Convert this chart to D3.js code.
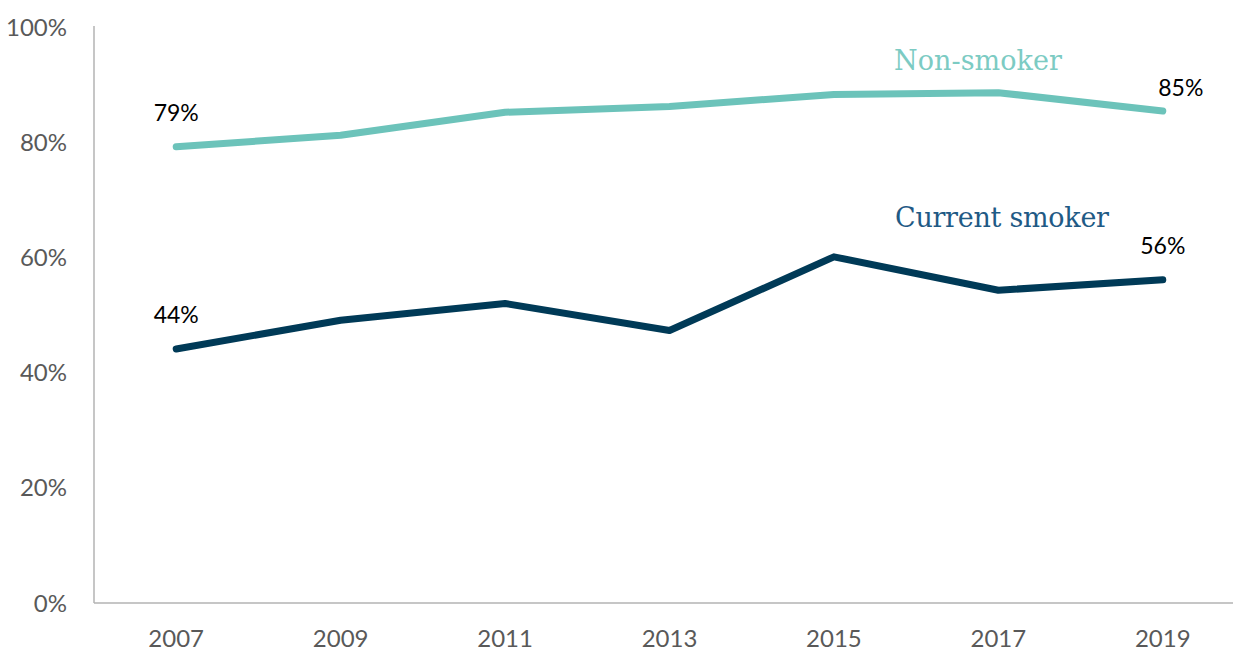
<!DOCTYPE html>
<html>
<head>
<meta charset="utf-8">
<script src="https://cdn.jsdelivr.net/npm/d3@7"></script>
<style>
  body { margin: 0; background: #fff; }
  svg { display: block; }
  .tick-label { font-family: Lato, "Open Sans", sans-serif; font-size: 24px; fill: #595959; }
  .data-label { font-family: Lato, "Open Sans", sans-serif; font-size: 23px; fill: #000; }
  .series-label { font-family: "DejaVu Serif", "Liberation Serif", serif; font-size: 27px; }
</style>
</head>
<body>
<div id="chart"></div>
<script>
// Data
const years = ["2007", "2009", "2011", "2013", "2015", "2017", "2019"];
const nonSmoker = [0.792, 0.812, 0.852, 0.862, 0.883, 0.886, 0.854];
const currentSmoker = [0.441, 0.491, 0.520, 0.473, 0.601, 0.543, 0.561];
const yTicks = [0, 0.2, 0.4, 0.6, 0.8, 1];

const width = 1233, height = 652;
const margin = { top: 27, right: 0, bottom: 49, left: 94 };

const svg = d3.select("#chart")
  .append("svg")
    .attr("width", width)
    .attr("height", height);

const x = d3.scalePoint()
  .domain(years)
  .range([margin.left, 1245])
  .padding(0.5);

const y = d3.scaleLinear()
  .domain([0, 1])
  .range([height - margin.bottom, margin.top]);

// Axis lines
svg.append("line")
  .attr("x1", margin.left).attr("x2", margin.left)
  .attr("y1", y(1) - 1).attr("y2", y(0))
  .attr("stroke", "#b3b3b3").attr("stroke-width", 1.5);
svg.append("line")
  .attr("x1", margin.left).attr("x2", width)
  .attr("y1", y(0)).attr("y2", y(0))
  .attr("stroke", "#b3b3b3").attr("stroke-width", 1.5);

// Y tick labels
svg.append("g")
  .selectAll("text")
  .data(yTicks)
  .enter()
  .append("text")
    .attr("class", "tick-label")
    .attr("x", 67)
    .attr("y", d => y(d))
    .attr("dy", "0.36em")
    .attr("text-anchor", "end")
    .text(d3.format(".0%"));

// X tick labels
svg.append("g")
  .selectAll("text")
  .data(years)
  .enter()
  .append("text")
    .attr("class", "tick-label")
    .attr("x", d => x(d))
    .attr("y", 647)
    .attr("text-anchor", "middle")
    .text(d => d);

// Lines
const line = d3.line()
  .x((d, i) => x(years[i]))
  .y(d => y(d));

const series = [
  { name: "Non-smoker", values: nonSmoker, color: "#6cc3ba", text: "#7ccbc3" },
  { name: "Current smoker", values: currentSmoker, color: "#003a57", text: "#1f5a85" }
];

svg.append("g")
  .selectAll("path")
  .data(series)
  .enter()
  .append("path")
    .attr("d", d => line(d.values))
    .attr("fill", "none")
    .attr("stroke", d => d.color)
    .attr("stroke-width", 7)
    .attr("stroke-linecap", "round")
    .attr("stroke-linejoin", "round");

// Series labels
svg.append("text")
  .attr("class", "series-label")
  .attr("x", 894)
  .attr("y", 70)
  .attr("fill", series[0].text)
  .attr("textLength", 168)
  .text(series[0].name);

svg.append("text")
  .attr("class", "series-label")
  .attr("x", 895)
  .attr("y", 227)
  .attr("fill", series[1].text)
  .attr("textLength", 214)
  .text(series[1].name);

// Data labels
const dataLabels = [
  { s: nonSmoker, i: 0, dx: 0 },
  { s: nonSmoker, i: 6, dx: 18, dy: -15 },
  { s: currentSmoker, i: 0, dx: 0 },
  { s: currentSmoker, i: 6, dx: 0 }
];

svg.append("g")
  .selectAll("text")
  .data(dataLabels)
  .enter()
  .append("text")
    .attr("class", "data-label")
    .attr("x", d => x(years[d.i]) + d.dx)
    .attr("y", d => y(d.s[d.i]) + (d.dy || -26))
    .attr("text-anchor", "middle")
    .text(d => Math.round(d.s[d.i] * 100) + "%");
</script>
</body>
</html>
